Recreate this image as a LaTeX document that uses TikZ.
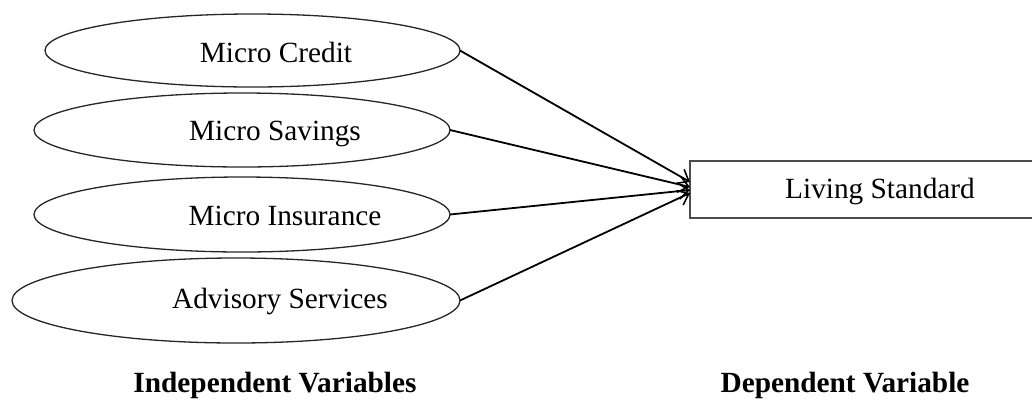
\documentclass[tikz,border=0pt]{standalone}
\usepackage{fontspec}
\setmainfont{Liberation Serif}
\usetikzlibrary{shapes.geometric,arrows.meta}
\begin{document}
\begin{tikzpicture}[x=1pt,y=-1pt,
  ell/.style={draw=black!85,line width=1.3pt,ellipse,inner sep=0pt,outer sep=0pt},
  lbl/.style={anchor=base,inner sep=0pt,font=\fontsize{29.3}{34}\selectfont},
  hdr/.style={anchor=base,inner sep=0pt,font=\fontsize{29.3}{34}\selectfont\bfseries},
  boxst/.style={draw=black!70,line width=2pt,rectangle,inner sep=0pt,outer sep=0pt,minimum width=380pt,minimum height=57pt},
  arr/.style={line width=1.8pt,-{Straight Barb[length=10pt,width=16pt,line width=1.6pt]}}]
\useasboundingbox (0,0) rectangle (1032,400);
\node[ell,minimum width=415pt,minimum height=73pt] (e1) at (252.5,50.5) {};
\node[ell,minimum width=416pt,minimum height=74pt] (e2) at (242,130) {};
\node[ell,minimum width=416pt,minimum height=75pt] (e3) at (242,214.5) {};
\node[ell,minimum width=448pt,minimum height=85pt] (e4) at (236,300.5) {};
\node[lbl] (t1) at (276,62) {Micro Credit};
\node[lbl] (t2) at (275,140) {Micro Savings};
\node[lbl] (t3) at (285,225) {Micro Insurance};
\node[lbl] (t4) at (280,308) {Advisory Services};
\node[boxst] (box) at (880,189.5) {};
\node[lbl] (tb) at (880,198) {Living Standard};
\node[hdr] (h1) at (275,392) {Independent Variables};
\node[hdr] (h2) at (845,392) {Dependent Variable};
\path (box.west) ++(0,-7.5) coordinate (p1);
\path (box.west) ++(0,-2.5) coordinate (p2);
\path (box.west) ++(0,0.5) coordinate (p3);
\path (box.west) ++(0,3.5) coordinate (p4);
\draw[arr] (e1.east) -- (p1);
\draw[arr] (e2.east) -- (p2);
\draw[arr] (e3.east) -- (p3);
\draw[arr] (e4.east) -- (p4);
\end{tikzpicture}
\end{document}
